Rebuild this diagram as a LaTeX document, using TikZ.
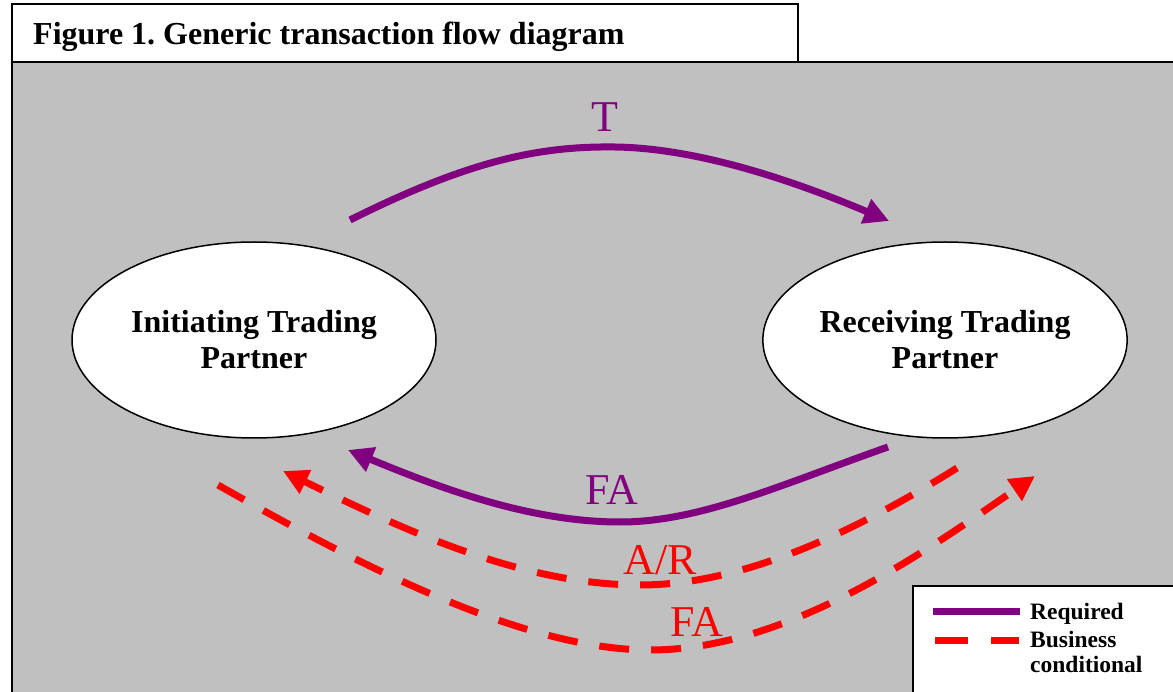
\documentclass[tikz,border=0pt]{standalone}
\usepackage{fontspec}
\setmainfont{Liberation Serif}
\usetikzlibrary{arrows.meta,shapes.geometric}
\frenchspacing
\definecolor{bggray}{RGB}{192,192,192}
\definecolor{reqpurple}{RGB}{128,0,128}
\definecolor{condred}{RGB}{255,0,0}
\tikzset{
  partner/.style={ellipse, draw=black, line width=1.5pt, fill=white, minimum width=364pt, minimum height=196pt, align=center, font=\fontsize{32}{36}\selectfont\bfseries},
  reqline/.style={draw=reqpurple, line width=7pt},
  condline/.style={draw=condred, line width=7pt, dash pattern=on 30pt off 22pt},
  reqarrow/.style={reqline, -{Triangle[length=25pt,width=25pt]}},
  condarrow/.style={condline, -{Triangle[length=25pt,width=25pt,fill=condred]}},
  flowlabel/.style={font=\fontsize{44}{48}\selectfont},
  legendtext/.style={anchor=base west, font=\fontsize{23.5}{26}\selectfont\bfseries, inner sep=0pt},
}
\begin{document}
\begin{tikzpicture}[x=1pt,y=-1pt]
\useasboundingbox (0,0) rectangle (1173,692);
% background panel
\path[fill=bggray, draw=black, line width=2pt] (12,62) rectangle (1180,700);
% title box
\path[fill=white, draw=black, line width=2pt] (12,4) rectangle (798,62);
\node[anchor=base west, inner sep=0pt, font=\fontsize{32}{34}\selectfont\bfseries] (title) at (33,45) {Figure 1. Generic transaction flow diagram};
% partners
\node[partner] (init) at (254,340) {Initiating Trading\\Partner};
\node[partner] (recv) at (945,340) {Receiving Trading\\Partner};
% connector end points
\coordinate (tS) at (350,220);
\coordinate (tM) at (615,147);
\coordinate (tE) at (889,221);
\coordinate (fS) at (888,447);
\coordinate (fM) at (620,522);
\coordinate (fE) at (348,450);
\coordinate (aS) at (957,468);
\coordinate (aM) at (640,585);
\coordinate (aE) at (283,471);
\coordinate (bS) at (218,485);
\coordinate (bM) at (650,650);
\coordinate (bE) at (1035,476);
% T
\draw[reqarrow] (tS) .. controls (470,160) and (540,146) .. (tM) .. controls (690,148) and (780,175) .. (tE);
\node[flowlabel, text=reqpurple] (tlab) at (605,117) {T};
% FA required
\draw[reqarrow] (fS) .. controls (780,485) and (700,522) .. (fM) .. controls (530,522) and (440,488) .. (fE);
\node[flowlabel, text=reqpurple] (falab) at (612,490) {FA};
% A/R conditional
\draw[condarrow] (aS) .. controls (850,535) and (740,585) .. (aM) .. controls (520,585) and (400,528) .. (aE);
\node[flowlabel, text=condred] (arlab) at (660,560) {A/R};
% FA conditional
\draw[condarrow] (bS) .. controls (350,560) and (520,650) .. (bM) .. controls (790,650) and (930,548) .. (bE);
\node[flowlabel, text=condred] (fa2lab) at (697,622) {FA};
% legend
\path[fill=white, draw=black, line width=2pt] (913,586) rectangle (1180,700);
\coordinate (l1a) at (933,611);
\coordinate (l1b) at (1020,611);
\coordinate (l2a) at (935,640);
\coordinate (l2b) at (1019,640);
\draw[reqline] (l1a) -- (l1b);
\draw[draw=condred, line width=7pt, dash pattern=on 33pt off 23pt] (l2a) -- (l2b);
\node[legendtext] (lreq) at (1030,619) {Required};
\node[legendtext] (lbus) at (1030,647) {Business};
\node[legendtext] (lcon) at (1030,672) {conditional};
\end{tikzpicture}
\end{document}
